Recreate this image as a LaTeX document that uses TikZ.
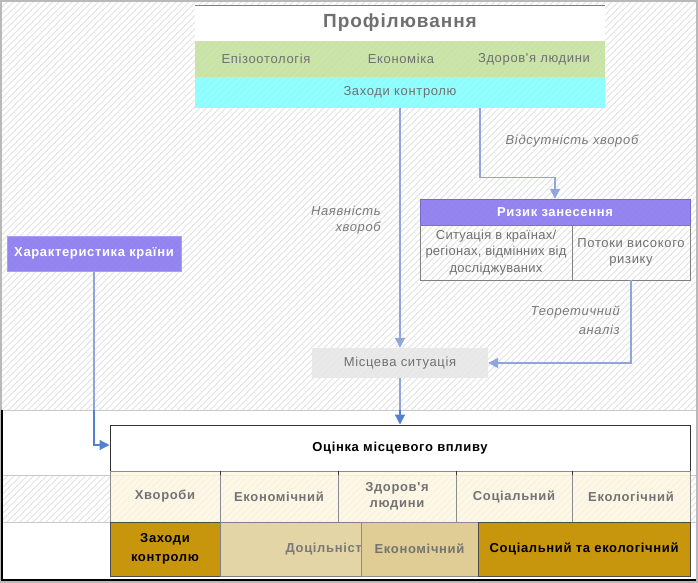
\documentclass[tikz,border=0pt]{standalone}
\usepackage{fontspec}
\setmainfont{Liberation Sans}[LetterSpace=5, Ligatures=TeXOff]
\usetikzlibrary{arrows.meta,calc}
\definecolor{hatchc}{HTML}{E2E2E2}
\definecolor{txtgray}{HTML}{707070}
\definecolor{lblgray}{HTML}{7A7A7A}
\definecolor{greenrow}{HTML}{C3E09A}
\definecolor{cyanrow}{HTML}{7FFFFF}
\definecolor{purp}{HTML}{8B7BF0}
\definecolor{purpb}{HTML}{A89EF2}
\definecolor{arrlight}{HTML}{8EA6DA}
\definecolor{arrdark}{HTML}{5580D0}
\definecolor{beige}{HTML}{FDF5E0}
\definecolor{brown}{HTML}{C8960C}
\definecolor{tan}{HTML}{DCC88A}
\definecolor{localg}{HTML}{E6E6E6}
\definecolor{bandline}{HTML}{C8C8C8}
\tikzset{
  base/.style={inner sep=0pt, font=\fontsize{13}{16}\selectfont},
  box/.style={base, anchor=center, align=center},
  plain/.style={base, text=txtgray},
  lbl/.style={base, text=lblgray, font=\fontsize{13}{16}\selectfont\itshape, align=right},
  arrl/.style={draw=arrlight, line width=1.3pt, -{Triangle[length=10pt,width=10pt]}},
  linel/.style={draw=arrlight, line width=1.3pt},
  arrd/.style={draw=arrdark, line width=1.3pt, -{Triangle[length=10pt,width=10pt]}},
  hatch/.style={draw=hatchc, line width=0.8pt},
  cell/.style={box, draw=gray!90, line width=0.7pt, fill=beige, fill opacity=0.8, text opacity=1, text=gray!90!black, font=\fontsize{13}{16}\selectfont\bfseries},
  brownbox/.style={box, draw=black!70, line width=0.8pt, fill=brown, text=black, font=\fontsize{13}{19}\selectfont\bfseries},
}
\begin{document}
\begin{tikzpicture}[x=1pt,y=-1pt]
\useasboundingbox (0,0) rectangle (698,583);
\fill[white] (0,0) rectangle (698,583);
% hatch background
\begin{scope}
\clip (2,2) rectangle (696,581);
\foreach \i in {-600,-593.5,...,700} \draw[hatch] (\i,583) -- ++(583,-583);
\end{scope}
% white bands
\fill[white] (2,410) rectangle (696,475);
\fill[white] (2,522) rectangle (696,580);
\draw[bandline, line width=1pt] (2,410) -- (696,410);
\draw[bandline, line width=1pt] (2,475) -- (696,475);
\draw[bandline, line width=1pt] (2,522) -- (696,522);
% outer frame
\draw[gray!55, line width=2pt] (1,1) rectangle (697,582);
\draw[black, line width=1.2pt] (2,410) -- (2,580) -- (696,580);

% Profiling panel
\node[box, fill=white, minimum width=410pt, minimum height=35pt] (title) at (400,23.5) {};
\node[base, text=txtgray, font=\fontsize{19}{22}\selectfont\bfseries] (titletxt) at (400,23) {Профілювання};
\draw[gray, line width=1pt] (title.north west) -- (title.north east);
\node[box, fill=greenrow, fill opacity=0.85, minimum width=410pt, minimum height=36pt] (green) at (400,59) {};
\node[plain] (epi) at (266,59) {Епізоотологія};
\node[plain] (eco) at (401,59) {Економіка};
\node[plain] (hum) at (534,59) {Здоров'я людини};
\node[box, fill=cyanrow, fill opacity=0.85, text opacity=1, text=txtgray, minimum width=410pt, minimum height=31pt] (ctrl) at (400,92.5) {Заходи контролю};

% Risk of introduction
\node[box, fill=purp, fill opacity=0.92, text opacity=1, draw=purp!85!black, text=white, font=\fontsize{13}{16}\selectfont\bfseries, minimum width=270pt, minimum height=26pt] (risk) at (555,212) {Ризик занесення};
\node[box, draw=gray, line width=0.8pt, text=txtgray, font=\fontsize{13}{16.5}\selectfont\addfontfeature{LetterSpace=2}, minimum width=152pt, minimum height=55pt] (sit) at (496,252.5) {Ситуація в країнах/\\регіонах, відмінних від\\досліджуваних};
\node[box, draw=gray, line width=0.8pt, text=txtgray, minimum width=118pt, minimum height=55pt] (flow) at (631,252.5) {Потоки високого\\ризику};

% Country characteristics
\node[box, fill=purp, fill opacity=0.92, text opacity=1, draw=purpb, line width=1pt, text=white, font=\fontsize{13}{16}\selectfont\bfseries, minimum width=174pt, minimum height=35pt] (char) at (94,253.5) {Характеристика країни};

% Local situation
\node[box, fill=localg, fill opacity=0.85, text opacity=1, text=txtgray, minimum width=176pt, minimum height=30pt] (local) at (400,363) {Місцева ситуація};

% Assessment
\node[box, fill=white, draw=black!80, line width=1pt, text=black, font=\fontsize{13}{16}\selectfont\bfseries, minimum width=580pt, minimum height=46pt] (assess) at (400,448) {Оцінка місцевого впливу};

% Beige row
\node[cell, minimum width=110pt, minimum height=51pt] (c1) at (165,496.5) {Хвороби};
\node[cell, minimum width=118pt, minimum height=51pt] (c2) at (279,496.5) {Економічний};
\node[cell, minimum width=118pt, minimum height=51pt] (c3) at (397,496.5) {Здоров'я\\людини};
\node[cell, minimum width=116pt, minimum height=51pt] (c4) at (514,496.5) {Соціальний};
\node[cell, minimum width=118pt, minimum height=51pt] (c5) at (631,496.5) {Екологічний};
\draw[black!80, line width=1pt] (c1.north east) -- ++(0,4) (c2.north east) -- ++(0,4) (c3.north east) -- ++(0,4) (c4.north east) -- ++(0,4);

% Brown row
\node[brownbox, minimum width=110pt, minimum height=54pt] (b1) at (165,549) {Заходи\\контролю};
\node[box, fill=tan, fill opacity=0.75, draw=gray, line width=0.7pt, minimum width=258pt, minimum height=54pt] (tanbox) at (349,549) {};
\node[base, anchor=east, text=gray!95!black, font=\fontsize{13}{16}\selectfont\bfseries] (doc) at (362,549) {Доцільніст};
\node[cell, fill=tan, fill opacity=0.6, minimum width=117pt, minimum height=54pt] (b2) at (419.5,549) {Економічний};
\node[brownbox, minimum width=212pt, minimum height=54pt] (b3) at (584,549) {Соціальний та екологічний};

% Connectors
\draw[arrl] (ctrl.south) -- (local.north);
\node[lbl, anchor=east] (l1) at (381,220) {Наявність\\хвороб};
\draw[arrl] ([xshift=80pt]ctrl.south) -- ++(0,69) -| (risk.north);
\node[lbl] (l2) at (572,141) {Відсутність хвороб};
\draw[arrl] (flow.south) |- (local.east);
\node[lbl, anchor=east, font=\fontsize{13}{19}\selectfont\itshape] (l3) at (620,320.5) {Теоретичний\\аналіз};
\coordinate (m1) at (local.south |- 0,410);
\coordinate (m2) at (char.south |- 0,410);
\draw[linel] (local.south) -- (m1);
\draw[arrd] (m1) -- (assess.north);
\draw[linel] (char.south) -- (m2);
\draw[arrd] (m2) |- ([yshift=3pt]assess.west);
\end{tikzpicture}
\end{document}
